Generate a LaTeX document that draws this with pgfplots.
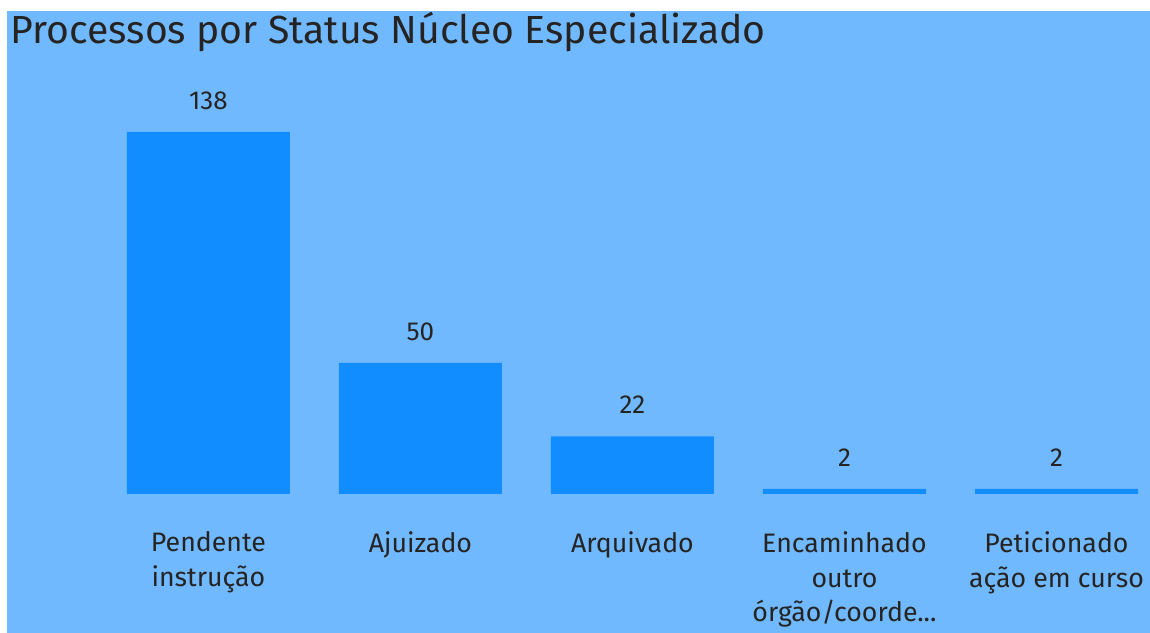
\documentclass[border=0pt]{standalone}
\usepackage{fontspec}
\setmainfont{Fira Sans}
\usepackage{pgfplots}
\pgfplotsset{compat=1.18}
\definecolor{panel}{HTML}{71B9FF}
\definecolor{barblue}{HTML}{118DFF}
\definecolor{ink}{HTML}{252423}

\begin{document}
\begin{tikzpicture}
% canvas: 1150 x 633 px, 1 px = 0.01 cm
\useasboundingbox (0,0) rectangle (11.5,6.33);
\clip (0,0) rectangle (11.5,6.33);
\fill[white] (0,0) rectangle (11.5,6.33);
\fill[panel] (0.07,0) rectangle (11.5,6.22);
\node[anchor=base west, font=\fontsize{11.15}{13}\selectfont, text=ink, inner sep=0] at (0.10,5.89) {Processos por Status Núcleo Especializado};
\begin{axis}[
  at={(0.07cm,1.39cm)}, anchor=south west,
  width=11.43cm, height=4.83cm, scale only axis,
  xmin=-0.950, xmax=4.441, ymin=0, ymax=184.1,
  axis line style={draw=none},
  xtick=data, ytick=\empty, major tick length=0pt,
  xticklabels={{Pendente\\instrução},{Ajuizado},{Arquivado},{Encaminhado\\outro\\órgão/coorde.{}.{}.},{Peticionado\\ação em curso}},
  xticklabel style={align=center, font=\fontsize{7.6}{9.9}\selectfont, text=ink, anchor=north, yshift=-0.25cm},
  ybar, bar width=1.63cm,
  nodes near coords,
  /pgf/number format/assume math mode=true,
  every node near coord/.append style={font=\fontsize{7.4}{9}\selectfont, text=ink, yshift=0.1cm},
  clip=false,
]
\addplot[fill=barblue, draw=none] coordinates {(0,138) (1,50) (2,22) (3,2) (4,2)};
\end{axis}
\end{tikzpicture}
\end{document}
